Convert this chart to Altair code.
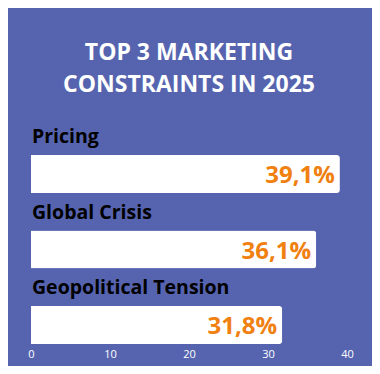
import altair as alt
import pandas as pd

categories = ["Pricing", "Global Crisis", "Geopolitical Tension"]
values = [39.1, 36.1, 31.8]
value_labels = ["39,1%", "36,1%", "31,8%"]
tick_values = [0, 10, 20, 30, 40]

df = pd.DataFrame({"category": categories, "value": values, "label": value_labels})

BG = "#5664B0"
ORANGE = "#F08010"
FONT = "Open Sans"

y = alt.Y("category:N", sort=categories, axis=None,
          scale=alt.Scale(paddingInner=0.497, paddingOuter=0))
x = alt.X("value:Q", scale=alt.Scale(domain=[0, 40], nice=False),
          axis=alt.Axis(values=tick_values, title=None, domain=False, ticks=False, grid=False,
                        labelColor="white", labelFontSize=11, labelFont=FONT, labelPadding=4,
                        labelFlush=False))

bars = alt.Chart(df).mark_bar(color="white", cornerRadiusTopRight=3, cornerRadiusBottomRight=3).encode(
    x=x, y=y)

cat_text = alt.Chart(df).mark_text(align="left", baseline="alphabetic", dy=-31, dx=1,
                                   font=FONT, fontWeight="bold", fontSize=19.5, color="black").encode(
    x=alt.value(0), y=y, text="category:N")

val_text = alt.Chart(df).mark_text(align="right", baseline="alphabetic", dy=9, dx=-5,
                                   font=FONT, fontWeight="bold", fontSize=24, color=ORANGE).encode(
    x=x, y=y, text="label:N")

chart = alt.layer(bars, cat_text, val_text).properties(
    width=316, height=189,
    title=alt.Title(["TOP 3 MARKETING", "CONSTRAINTS IN 2025"], fontSize=23, font=FONT,
                    fontWeight="bold", color="white", lineHeight=32, anchor="middle", offset=30),
    autosize=alt.AutoSizeParams(type="none"),
    padding={"left": 23, "top": 147, "right": 25, "bottom": 22},
).configure(background=BG).configure_view(stroke=None)

chart.save("out.html", embed_options={"renderer": "svg", "actions": False})
